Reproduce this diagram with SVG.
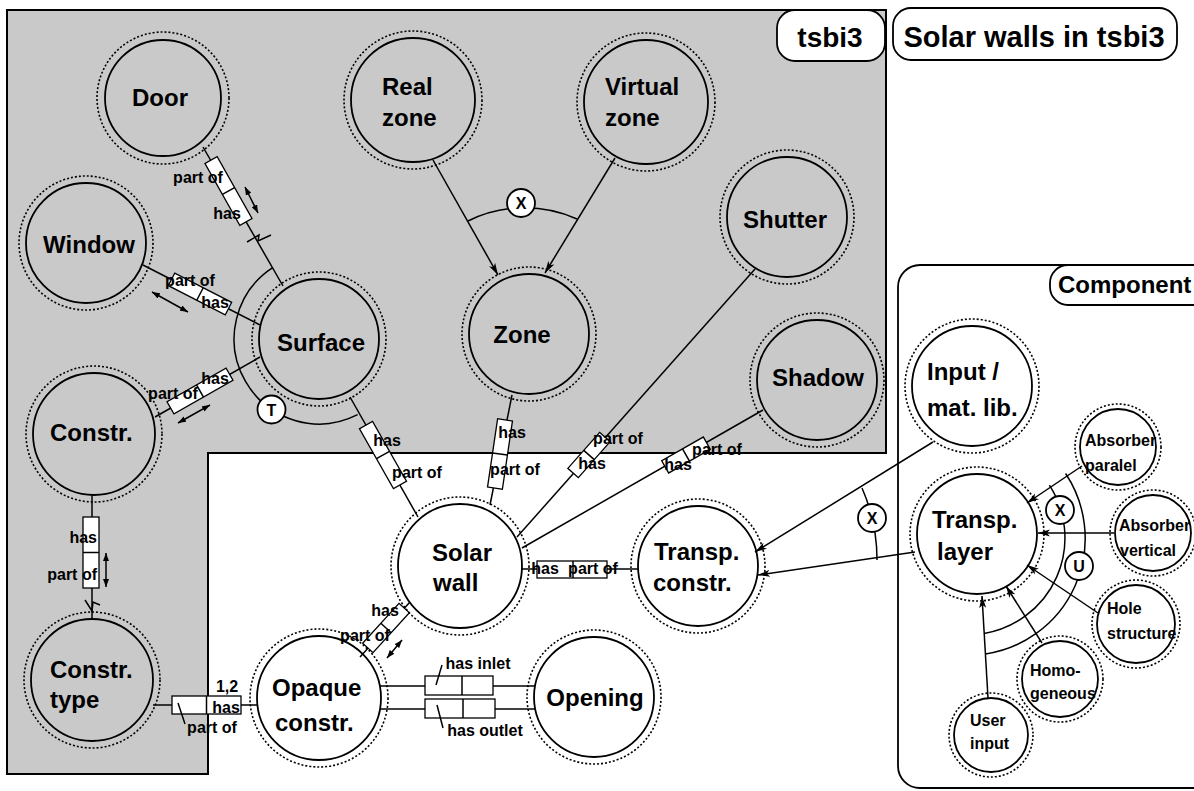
<svg xmlns="http://www.w3.org/2000/svg" width="1194" height="791" viewBox="0 0 1194 791">
<defs>
<style>
.bg{fill:#c9c9c9;stroke:#000;stroke-width:2}
.n{fill:none;stroke:#000;stroke-width:1.8}
.d{fill:none;stroke:#000;stroke-width:1.6;stroke-dasharray:2 2}
.t{font-family:"Liberation Sans",Arial,sans-serif;font-weight:bold;font-size:24px;text-anchor:middle;fill:#000}
.st{text-anchor:start}
.sm{font-size:16px}
.c{stroke:#000;stroke-width:1.5;fill:none}
.rb{fill:#fff;stroke:#000;stroke-width:1.3}
.pill{fill:#fff;stroke:#000;stroke-width:1.8}
.a{marker-end:url(#ah)}
.da{marker-start:url(#sa);marker-end:url(#sa)}
</style>
<marker id="ah" viewBox="0 0 12 8" refX="12" refY="4" markerWidth="12" markerHeight="8" markerUnits="userSpaceOnUse" orient="auto"><path d="M0,0.5 L12,4 L0,7.5 L3,4 Z" fill="#000"/></marker>
<marker id="sa" viewBox="0 0 8 6" refX="8" refY="3" markerWidth="8" markerHeight="6" markerUnits="userSpaceOnUse" orient="auto-start-reverse"><path d="M0,0 L8,3 L0,6 Z" fill="#000"/></marker>
</defs>
<rect width="1194" height="791" fill="#fff"/>
<path class="bg" d="M7,10 H886 V453 H208 V774 H7 Z"/>
<rect x="898" y="265" width="320" height="523" rx="22" fill="none" stroke="#000" stroke-width="1.8"/>

<g id="title-tsbi3"><rect class="pill" x="777" y="10" width="108" height="51" rx="18"/><text class="t" x="830" y="47" style="font-size:28px">tsbi3</text></g>
<g id="title-solar"><rect class="pill" x="893" y="8" width="284" height="52" rx="18"/><text class="t" x="1034" y="47" style="font-size:29px">Solar walls in tsbi3</text></g>
<g id="title-component"><rect class="pill" x="1050" y="265" width="170" height="40" rx="18"/><text class="t st" x="1058" y="293">Component</text></g>

<g id="connectors">
<line class="c" x1="203" y1="147" x2="283" y2="286"/>
<line class="c" x1="143" y1="265" x2="260" y2="325"/>
<line class="c" x1="155" y1="417" x2="260" y2="357"/>
<line class="c" x1="92" y1="495" x2="92" y2="619"/>
<line class="c" x1="153" y1="705" x2="258" y2="705"/>
<line class="c" x1="350" y1="397" x2="418" y2="517"/>
<line class="c" x1="512" y1="395" x2="490" y2="505"/>
<line class="c" x1="517" y1="537" x2="755" y2="269"/>
<line class="c" x1="522" y1="548" x2="763" y2="410"/>
<line class="c" x1="522" y1="569" x2="638" y2="569"/>
<line class="c" x1="360" y1="657" x2="410" y2="602"/>
<line class="c" x1="380" y1="686" x2="535" y2="686"/>
<line class="c" x1="380" y1="709" x2="535" y2="709"/>
<line class="c a" x1="433" y1="160" x2="498" y2="275"/>
<line class="c a" x1="615" y1="158" x2="545" y2="273"/>
<line class="c a" x1="933" y1="442" x2="755" y2="552"/>
<line class="c a" x1="915" y1="552" x2="758" y2="575"/>
<line class="c a" x1="1082" y1="466" x2="1027" y2="503"/>
<line class="c a" x1="1114" y1="533" x2="1038" y2="533"/>
<line class="c a" x1="1098" y1="613" x2="1027" y2="565"/>
<line class="c a" x1="1042" y1="643" x2="1006" y2="586"/>
<line class="c a" x1="988" y1="698" x2="982" y2="596"/>

<path class="c" d="M468,221 A128,128 0 0 1 577,219"/>
<path class="c" d="M272.7,267.7 A85,85 0 0 0 357.6,414.7"/>
<path class="c" d="M862,488 A180,180 0 0 1 877,560"/>
<path class="c" d="M1049.4,485.2 A97,97 0 0 1 984.2,633.5"/>
<path class="c" d="M1065.6,473.5 A117,117 0 0 1 985.5,654"/>

<g transform="translate(228.5,191) rotate(60.6)"><rect class="rb" x="-35.5" y="-7" width="71" height="14"/><line class="c" x1="0" y1="-7" x2="0" y2="7"/></g>
<g transform="translate(200,294) rotate(27.2)"><rect class="rb" x="-32" y="-7" width="64" height="14"/><line class="c" x1="0" y1="-7" x2="0" y2="7"/></g>
<g transform="translate(200,391) rotate(-29.7)"><rect class="rb" x="-34" y="-7" width="68" height="14"/><line class="c" x1="0" y1="-7" x2="0" y2="7"/></g>
<g transform="translate(91,552.5) rotate(90)"><rect class="rb" x="-35.5" y="-8" width="71" height="16"/><line class="c" x1="0" y1="-8" x2="0" y2="8"/></g>
<g transform="translate(206.5,705)"><rect class="rb" x="-34.5" y="-9" width="69" height="18"/><line class="c" x1="0" y1="-9" x2="0" y2="9"/></g>
<g transform="translate(383,455) rotate(60.5)"><rect class="rb" x="-34.5" y="-7.5" width="69" height="15"/><line class="c" x1="0" y1="-7.5" x2="0" y2="7.5"/></g>
<g transform="translate(500,454) rotate(98.4)"><rect class="rb" x="-34.5" y="-7.5" width="69" height="15"/><line class="c" x1="0" y1="-7.5" x2="0" y2="7.5"/></g>
<g transform="translate(589,455) rotate(-48.5)"><rect class="rb" x="-24" y="-7" width="48" height="14"/><line class="c" x1="0" y1="-7" x2="0" y2="7"/></g>
<g transform="translate(686,455) rotate(-29.8)"><rect class="rb" x="-24" y="-7" width="48" height="14"/><line class="c" x1="0" y1="-7" x2="0" y2="7"/></g>
<g transform="translate(572,569.5)"><rect class="rb" x="-35" y="-8.5" width="70" height="17"/><line class="c" x1="1" y1="-8.5" x2="1" y2="8.5"/></g>
<g transform="translate(386,628) rotate(-47.7)"><rect class="rb" x="-27" y="-7" width="54" height="14"/><line class="c" x1="0" y1="-7" x2="0" y2="7"/></g>
<g><rect class="rb" x="425" y="676" width="68" height="19"/><line class="c" x1="462" y1="676" x2="462" y2="695"/></g>
<g><rect class="rb" x="425" y="699" width="70" height="19"/><line class="c" x1="463" y1="699" x2="463" y2="718"/></g>

<line class="c da" x1="245" y1="187" x2="258" y2="213"/>
<line class="c da" x1="152" y1="292" x2="188" y2="312"/>
<line class="c da" x1="178" y1="423" x2="210" y2="405"/>
<line class="c da" x1="106" y1="553" x2="106" y2="587"/>
<line class="c da" x1="387" y1="658" x2="402" y2="640"/>

<line class="c" x1="178" y1="703" x2="185" y2="724"/>
<line class="c" x1="442" y1="665" x2="436" y2="685"/>
<line class="c" x1="437" y1="705" x2="443" y2="728"/>
<polyline class="c" points="247,242 259,235 258,241 271,235"/>
<polyline class="c" points="85,600 92,611 93,602 100,605"/>

<text class="t sm" x="198" y="183">part of</text>
<text class="t sm" x="227" y="219">has</text>
<text class="t sm" x="190" y="286">part of</text>
<text class="t sm" x="215" y="308">has</text>
<text class="t sm" x="215" y="384">has</text>
<text class="t sm" x="173" y="399">part of</text>
<text class="t sm" x="97" y="543" style="text-anchor:end">has</text>
<text class="t sm" x="97" y="580" style="text-anchor:end">part of</text>
<text class="t sm" x="227" y="692">1,2</text>
<text class="t sm" x="226" y="713">has</text>
<text class="t sm" x="212" y="733">part of</text>
<text class="t sm" x="387" y="446">has</text>
<text class="t sm" x="417" y="478">part of</text>
<text class="t sm" x="512" y="438">has</text>
<text class="t sm" x="515" y="475">part of</text>
<text class="t sm" x="618" y="444">part of</text>
<text class="t sm" x="592" y="469">has</text>
<text class="t sm" x="717" y="455">part of</text>
<text class="t sm" x="678" y="470">has</text>
<text class="t sm" x="545" y="574">has</text>
<text class="t sm" x="593" y="574">part of</text>
<text class="t sm" x="385" y="616">has</text>
<text class="t sm" x="365" y="641">part of</text>
<text class="t sm" x="478" y="669">has inlet</text>
<text class="t sm" x="485" y="736">has outlet</text>

<g id="op-x-zone"><circle cx="521" cy="203" r="14" fill="#fff" stroke="#000" stroke-width="1.8"/><text class="t sm" x="521" y="209">X</text></g>
<g id="op-t-surface"><circle cx="271.5" cy="409.5" r="14" fill="#fff" stroke="#000" stroke-width="1.8"/><text class="t sm" x="271.5" y="415.5">T</text></g>
<g id="op-x-transp"><circle cx="872" cy="518" r="14" fill="#fff" stroke="#000" stroke-width="1.8"/><text class="t sm" x="872" y="524">X</text></g>
<g id="op-x-layer"><circle cx="1060" cy="510" r="14" fill="#fff" stroke="#000" stroke-width="1.8"/><text class="t sm" x="1060" y="516">X</text></g>
<g id="op-u-layer"><circle cx="1079" cy="566" r="14" fill="#fff" stroke="#000" stroke-width="1.8"/><text class="t sm" x="1079" y="572">U</text></g>
</g>

<g id="door"><circle class="d" cx="163" cy="98" r="66"/><circle class="n" cx="163" cy="98" r="58"/><text class="t" x="160" y="106">Door</text></g>
<g id="window"><circle class="d" cx="86" cy="243" r="67"/><circle class="n" cx="86" cy="243" r="60"/><text class="t" x="89" y="253">Window</text></g>
<g id="real-zone"><circle class="d" cx="413" cy="100" r="69"/><circle class="n" cx="413" cy="100" r="62"/><text class="t st" x="382" y="95">Real</text><text class="t st" x="382" y="126">zone</text></g>
<g id="virtual-zone"><circle class="d" cx="646" cy="102" r="69"/><circle class="n" cx="646" cy="102" r="62"/><text class="t st" x="605" y="95">Virtual</text><text class="t st" x="605" y="126">zone</text></g>
<g id="shutter"><circle class="d" cx="787" cy="217" r="67"/><circle class="n" cx="787" cy="217" r="60"/><text class="t" x="785" y="228">Shutter</text></g>
<g id="surface"><circle class="d" cx="319" cy="339" r="67"/><circle class="n" cx="319" cy="339" r="60"/><text class="t" x="321" y="351">Surface</text></g>
<g id="zone"><circle class="d" cx="529" cy="334" r="67"/><circle class="n" cx="529" cy="334" r="60"/><text class="t" x="522" y="343">Zone</text></g>
<g id="shadow"><circle class="d" cx="817" cy="380" r="67"/><circle class="n" cx="817" cy="380" r="60"/><text class="t" x="818" y="386">Shadow</text></g>
<g id="constr"><circle class="d" cx="94" cy="434" r="68"/><circle class="n" cx="94" cy="434" r="61"/><text class="t st" x="50" y="441">Constr.</text></g>
<g id="constr-type"><circle class="d" cx="92" cy="680" r="68"/><circle class="n" cx="92" cy="680" r="61"/><text class="t st" x="50" y="678">Constr.</text><text class="t st" x="50" y="708">type</text></g>
<g id="opaque-constr"><circle class="d" cx="319" cy="698" r="69"/><circle class="n" cx="319" cy="698" r="62"/><text class="t st" x="272" y="696">Opaque</text><text class="t st" x="275" y="731">constr.</text></g>
<g id="solar-wall"><circle class="d" cx="460" cy="566" r="69"/><circle class="n" cx="460" cy="566" r="62"/><text class="t st" x="432" y="561">Solar</text><text class="t st" x="433" y="591">wall</text></g>
<g id="transp-constr"><circle class="d" cx="698" cy="566" r="67"/><circle class="n" cx="698" cy="566" r="60"/><text class="t st" x="654" y="560">Transp.</text><text class="t st" x="653" y="591">constr.</text></g>
<g id="opening"><circle class="d" cx="594" cy="697" r="67"/><circle class="n" cx="594" cy="697" r="60"/><text class="t" x="595" y="706">Opening</text></g>
<g id="input-mat-lib"><circle class="d" cx="972" cy="386" r="67"/><circle class="n" cx="972" cy="386" r="60"/><text class="t st" x="927" y="380">Input /</text><text class="t st" x="927" y="416">mat. lib.</text></g>
<g id="transp-layer"><circle class="d" cx="977" cy="534" r="67"/><circle class="n" cx="977" cy="534" r="60"/><text class="t st" x="932" y="528">Transp.</text><text class="t st" x="937" y="560">layer</text></g>
<g id="absorber-paralel"><circle class="d" cx="1118" cy="447" r="43"/><circle class="n" cx="1118" cy="447" r="38"/><text class="t st sm" x="1085" y="446">Absorber</text><text class="t st sm" x="1085" y="471">paralel</text></g>
<g id="absorber-vertical"><circle class="d" cx="1153" cy="533" r="43"/><circle class="n" cx="1153" cy="533" r="38"/><text class="t st sm" x="1119" y="531">Absorber</text><text class="t st sm" x="1120" y="556">vertical</text></g>
<g id="hole-structure"><circle class="d" cx="1136" cy="624" r="44"/><circle class="n" cx="1136" cy="624" r="39"/><text class="t st sm" x="1107" y="614">Hole</text><text class="t st sm" x="1107" y="639">structure</text></g>
<g id="homogeneous"><circle class="d" cx="1060" cy="679" r="43"/><circle class="n" cx="1060" cy="679" r="38"/><text class="t st sm" x="1030" y="676">Homo-</text><text class="t st sm" x="1030" y="699">geneous</text></g>
<g id="user-input"><circle class="d" cx="991" cy="735" r="42"/><circle class="n" cx="991" cy="735" r="37"/><text class="t st sm" x="970" y="726">User</text><text class="t st sm" x="970" y="749">input</text></g>
</svg>
